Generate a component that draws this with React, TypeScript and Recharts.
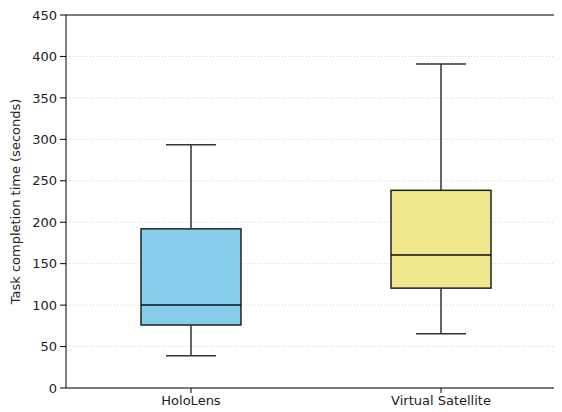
import { Bar, CartesianGrid, ComposedChart, ReferenceLine, XAxis, YAxis } from "recharts";

const categories = ["HoloLens", "Virtual Satellite"];
const mins = [39, 65.5];
const q1s = [76, 120.5];
const medians = [100, 160.5];
const q3s = [192, 238.5];
const maxs = [293.5, 391];
const fills = ["#87CEEB", "#F0E68C"];
const yTicks = [0, 50, 100, 150, 200, 250, 300, 350, 400, 450];

const data = categories.map((name, i) => ({
  name,
  range: [mins[i], maxs[i]],
  min: mins[i],
  q1: q1s[i],
  median: medians[i],
  q3: q3s[i],
  max: maxs[i],
  fill: fills[i],
}));

const font = "'DejaVu Sans', sans-serif";

// range bar spans min..max, the box parts are placed inside it on the same linear scale
function BoxShape(props: any) {
  const { x, y, width, height, payload } = props;
  const top = Math.min(y, y + height);
  const h = Math.abs(height);
  const span = payload.max - payload.min;
  const py = (v: number) => top + ((payload.max - v) / span) * h;
  const cx = x + width / 2;
  const capHalf = width / 4;
  const whisker = "#333";
  return (
    <g>
      <line x1={cx} x2={cx} y1={py(payload.max)} y2={py(payload.q3)} stroke={whisker} strokeWidth={1.5} />
      <line x1={cx} x2={cx} y1={py(payload.q1)} y2={py(payload.min)} stroke={whisker} strokeWidth={1.5} />
      <line x1={cx - capHalf} x2={cx + capHalf} y1={py(payload.max)} y2={py(payload.max)} stroke={whisker} strokeWidth={1.5} />
      <line x1={cx - capHalf} x2={cx + capHalf} y1={py(payload.min)} y2={py(payload.min)} stroke={whisker} strokeWidth={1.5} />
      <rect
        x={x}
        y={py(payload.q3)}
        width={width}
        height={py(payload.q1) - py(payload.q3)}
        fill={payload.fill}
        stroke="#222"
        strokeWidth={1.5}
      />
      <line x1={x} x2={x + width} y1={py(payload.median)} y2={py(payload.median)} stroke="#111" strokeWidth={1.5} />
    </g>
  );
}

export default function App() {
  return (
    <div style={{ margin: "-8px 0 0 -8px", width: 562, height: 412, overflow: "hidden", background: "#fff" }}>
      <ComposedChart width={566} height={412} data={data} margin={{ top: 15, right: 0, bottom: 0, left: 0 }}>
        <CartesianGrid vertical={false} stroke="#d0d0d0" strokeDasharray="1 2" />
        <XAxis
          dataKey="name"
          height={24}
          stroke="#000"
          tickSize={5}
          tickMargin={3}
          tick={{ fill: "#222", fontSize: 13, fontFamily: font }}
        />
        <YAxis
          width={66}
          domain={[0, 450]}
          ticks={yTicks}
          stroke="#000"
          tickSize={6}
          tickMargin={3}
          tick={{ fill: "#222", fontSize: 13, fontFamily: font }}
          label={{
            value: "Task completion time (seconds)",
            angle: -90,
            position: "insideLeft",
            offset: 15,
            style: { textAnchor: "middle", fill: "#222", fontSize: 13, fontFamily: font },
          }}
        />
        <ReferenceLine y={450} stroke="#000" />
        <Bar dataKey="range" barSize={100} shape={<BoxShape />} isAnimationActive={false} />
      </ComposedChart>
    </div>
  );
}
